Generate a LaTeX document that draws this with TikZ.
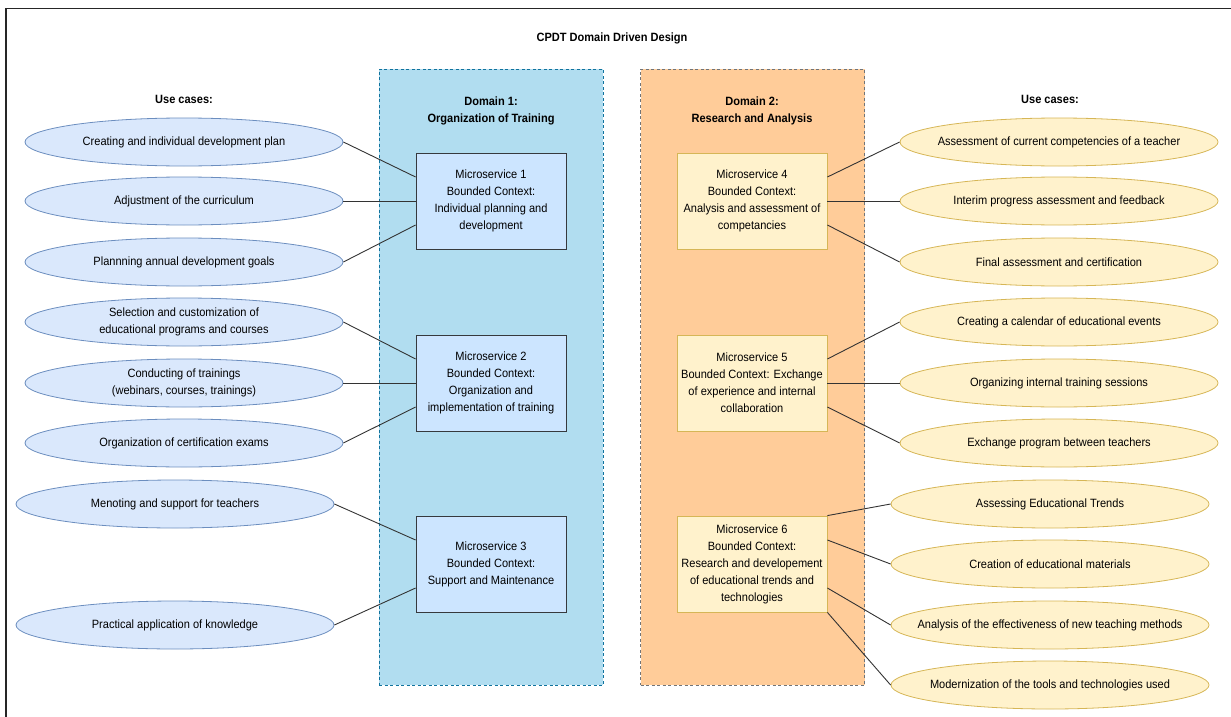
\documentclass[tikz,border=0pt]{standalone}
\usepackage{fontspec}
\setmainfont{Liberation Sans}[FakeStretch=0.92]
\usepackage{xcolor}
\usetikzlibrary{shapes.geometric,positioning,calc}
\definecolor{domAfill}{HTML}{B1DDF0}
\definecolor{domAline}{HTML}{10739E}
\definecolor{domBfill}{HTML}{FFCC99}
\definecolor{domBline}{HTML}{36393D}
\definecolor{msAfill}{HTML}{CCE5FF}
\definecolor{msAline}{HTML}{36393D}
\definecolor{ucAfill}{HTML}{DAE8FC}
\definecolor{ucAline}{HTML}{6C8EBF}
\definecolor{ucBfill}{HTML}{FFF2CC}
\definecolor{ucBline}{HTML}{D6B656}
\definecolor{linkgray}{HTML}{333333}
\newcommand{\dgfont}{\fontsize{12}{17}\selectfont}
\tikzset{
  frame/.style  = {line width=1.5pt, draw=black!85},
  dombox/.style = {rectangle, line width=0.8pt, dash pattern=on 3pt off 2.5pt,
                   minimum width=224pt, minimum height=616pt, inner sep=0pt},
  domA/.style   = {dombox, fill=domAfill, draw=domAline},
  domB/.style   = {dombox, fill=domBfill, draw=domBline!70},
  head/.style   = {font=\dgfont\bfseries, align=center, inner sep=1pt},
  msbox/.style  = {rectangle, draw, line width=0.8pt, align=center, font=\dgfont,
                   minimum width=150pt, minimum height=96pt, inner sep=2pt},
  msA/.style    = {msbox, fill=msAfill, draw=msAline},
  msB/.style    = {msbox, fill=ucBfill, draw=ucBline},
  usecase/.style= {ellipse, line width=0.8pt, align=center, font=\dgfont,
                   minimum width=318pt, minimum height=48pt,
                   inner xsep=-50pt, inner ysep=0pt},
  ucA/.style    = {usecase, fill=ucAfill, draw=ucAline},
  ucB/.style    = {usecase, fill=ucBfill, draw=ucBline},
  link/.style   = {draw=linkgray, line width=0.9pt}
}
\begin{document}
\begin{tikzpicture}[x=1pt, y=-1pt]
\useasboundingbox (0,0) rectangle (1231,717);
\draw[frame] (6,717) -- (6,8.5) -- (1231,8.5);

\node[head] (title) at (612,38) {CPDT Domain Driven Design};

% domains
\node[domA] (dom1) at (491,377) {};
\node[domB] (dom2) at (752.5,377) {};
\node[head] (dom1title) at (491,111) {Domain 1:\\Organization of Training};
\node[head] (dom2title) at (752,111) {Domain 2:\\Research and Analysis};

\node[head] (usesL) at (184,99) {Use cases:};
\node[head] (usesR) at (1050,99) {Use cases:};

% microservices
\node[msA] (ms1) at (491,201) {Microservice 1\\Bounded Context:\\Individual planning and\\development};
\node[msA] (ms2) at (491,383) {Microservice 2\\Bounded Context:\\Organization and\\implementation of training};
\node[msA] (ms3) at (491,564) {Microservice 3\\Bounded Context:\\Support and Maintenance};
\node[msB] (ms4) at (752,201) {Microservice 4\\Bounded Context:\\Analysis and assessment of\\competancies};
\node[msB] (ms5) at (752,383) {Microservice 5\\Bounded Context: Exchange\\of experience and internal\\collaboration};
\node[msB] (ms6) at (752,564) {Microservice 6\\Bounded Context:\\Research and developement\\of educational trends and\\technologies};

% use cases, domain 1
\node[ucA] (uc1) at (184,142) {Creating and individual development plan};
\node[ucA] (uc2) at (184,201) {Adjustment of the curriculum};
\node[ucA] (uc3) at (184,262) {Plannning annual development goals};
\node[ucA] (uc4) at (184,322) {Selection and customization of\\educational programs and courses};
\node[ucA] (uc5) at (184,383) {Conducting of trainings\\(webinars, courses, trainings)};
\node[ucA] (uc6) at (184,443) {Organization of certification exams};
\node[ucA] (uc7) at (175,504) {Menoting and support for teachers};
\node[ucA] (uc8) at (175,625) {Practical application of knowledge};

% use cases, domain 2
\node[ucB] (uc9)  at (1059,142) {Assessment of current competencies of a teacher};
\node[ucB] (uc10) at (1059,201) {Interim progress assessment and feedback};
\node[ucB] (uc11) at (1059,262) {Final assessment and certification};
\node[ucB] (uc12) at (1059,322) {Creating a calendar of educational events};
\node[ucB] (uc13) at (1059,383) {Organizing internal training sessions};
\node[ucB] (uc14) at (1059,443) {Exchange program between teachers};
\node[ucB] (uc15) at (1050,504) {Assessing Educational Trends};
\node[ucB] (uc16) at (1050,564) {Creation of educational materials};
\node[ucB] (uc17) at (1050,625) {Analysis of the effectiveness of new teaching methods};
\node[ucB] (uc18) at (1050,685) {Modernization of the tools and technologies used};

% links
\draw[link] (uc1.east) -- ([yshift=24pt]ms1.west);
\draw[link] (uc2.east) -- (ms1.west);
\draw[link] (uc3.east) -- ([yshift=-24pt]ms1.west);
\draw[link] (uc4.east) -- ([yshift=24pt]ms2.west);
\draw[link] (uc5.east) -- (ms2.west);
\draw[link] (uc6.east) -- ([yshift=-24pt]ms2.west);
\draw[link] (uc7.east) -- ([yshift=24pt]ms3.west);
\draw[link] (uc8.east) -- ([yshift=-24pt]ms3.west);

\draw[link] ([yshift=24pt]ms4.east) -- (uc9.west);
\draw[link] (ms4.east) -- (uc10.west);
\draw[link] ([yshift=-24pt]ms4.east) -- (uc11.west);
\draw[link] ([yshift=24pt]ms5.east) -- (uc12.west);
\draw[link] (ms5.east) -- (uc13.west);
\draw[link] ([yshift=-24pt]ms5.east) -- (uc14.west);
\draw[link] (ms6.north east) -- (uc15.west);
\draw[link] ([yshift=24pt]ms6.east) -- (uc16.west);
\draw[link] ([yshift=-24pt]ms6.east) -- (uc17.west);
\draw[link] (ms6.south east) -- (uc18.west);
\end{tikzpicture}
\end{document}
